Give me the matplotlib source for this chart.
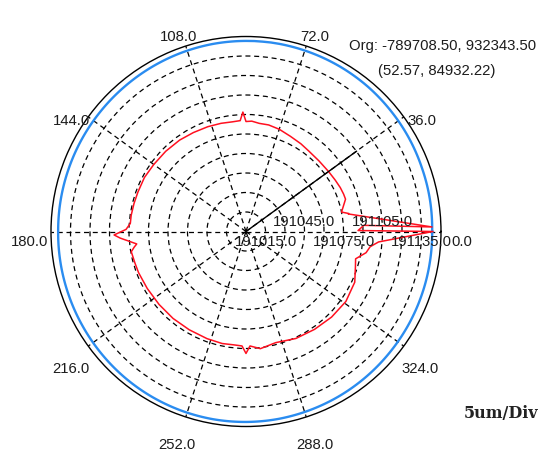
import numpy as np
import matplotlib
matplotlib.use("Agg")
import matplotlib.pyplot as plt

# ---- data -------------------------------------------------------------
r_min, r_max, r_step = 191000.0, 191150.0, 15.0
angle_ticks = [0, 36, 72, 108, 144, 180, 216, 252, 288, 324]
angle_labels = ["0.0", "36.0", "72.0", "108.0", "144.0",
                "180.0", "216.0", "252.0", "288.0", "324.0"]
ring_values = [191015, 191045, 191075, 191105, 191135]
ring_labels = ["191015.0", "191045.0", "191075.0", "191105.0", "191135.0"]

# reference (blue) trace
blue_theta = [0, 10, 20, 30, 40, 50, 60, 70, 80, 90, 100, 110, 120, 130,
              140, 150, 160, 170, 180, 190, 200, 210, 220, 230, 240, 250,
              260, 270, 280, 290, 300, 310, 320, 330, 340, 350, 360]
blue_r = [191143.2, 191143.6, 191143.9, 191144.5, 191145.0, 191145.6,
          191146.0, 191146.3, 191146.6, 191146.6, 191146.5, 191146.2,
          191145.8, 191145.4, 191145.1, 191144.9, 191144.7, 191144.6,
          191144.5, 191144.7, 191144.9, 191145.2, 191145.6, 191146.0,
          191146.3, 191146.5, 191146.6, 191146.5, 191146.3, 191145.9,
          191145.5, 191145.0, 191144.5, 191144.1, 191143.7, 191143.4,
          191143.2]

# measured (red) profile
red_theta = [10, 11.5, 18, 21, 25, 30, 36, 44, 52, 58, 65, 72, 78, 83, 87,
             90, 91.5, 93, 97, 103, 110, 118, 126, 135, 144, 152, 160, 166,
             172, 176, 179, 181.5, 183, 184.6, 186.5, 188, 190, 196, 201,
             210, 220, 230, 240, 250, 258, 264, 268, 270, 272, 277, 285,
             295, 305, 315, 325, 335, 342, 346, 350, 353, 355.5, 360, 360.5,
             363, 361.4, 369.7]
red_r = [191080.0, 191075.0, 191080.5, 191080.4, 191080.0, 191079.2,
         191078.5, 191078.1, 191078.5, 191079.6, 191080.8, 191082.7,
         191083.8, 191083.8, 191085.0, 191084.6, 191091.9, 191085.4,
         191085.0, 191085.4, 191085.8, 191086.2, 191086.9, 191087.3,
         191087.7, 191088.5, 191088.5, 191088.8, 191089.2, 191089.2,
         191092.3, 191101.5, 191096.9, 191090.8, 191084.6, 191086.9,
         191089.6, 191088.8, 191088.5, 191087.7, 191087.3, 191087.3,
         191087.3, 191087.7, 191088.1, 191087.7, 191088.1, 191093.8,
         191088.1, 191090.8, 191088.5, 191090.8, 191091.9, 191093.1,
         191093.8, 191092.3, 191088.5, 191086.9, 191093.8, 191096.2,
         191102.3, 191143.8, 191086.2, 191090.8, 191143.1, 191080.0]

# marker line from the origin
marker_theta = [36, 36]
marker_r = [191000, 191105]

# label offsets (pixels) from the centre
angle_label_offsets = [(216, -9.5), (176, 111.5), (69, 195.5), (-67, 195.5),
                       (-175, 111.5), (-216, -9.5), (-175, -136.5),
                       (-69, -212.5), (69, -212.5), (174, -136.5)]

# ---- figure -----------------------------------------------------------
W, H = 548, 456
fig = plt.figure(figsize=(W / 100, H / 100), dpi=100)
cx, cy, rad = 246.0, 232.5, 195.0
ax = fig.add_axes([(cx - rad) / W, (H - cy - rad) / H, 2 * rad / W, 2 * rad / H],
                  projection="polar")
ax.set_theta_zero_location("E")
ax.set_theta_direction(1)
ax.set_rlim(r_min, r_max)
ax.set_rorigin(r_min)

txt_font = ["Liberation Sans", "DejaVu Sans"]
txt_col = "#1c1c1c"

ax.set_thetagrids(angle_ticks, [""] * len(angle_ticks))
ax.set_rgrids(np.arange(r_min + r_step, r_max, r_step), [""] * 9)
ax.grid(True, color="black", linestyle=(0, (4, 3)), linewidth=0.9)
ax.tick_params(length=0)
ax.spines["polar"].set_color("black")
ax.spines["polar"].set_linewidth(1.0)

blue_line, = ax.plot(np.deg2rad(blue_theta), blue_r, color="#2a8cf0",
                     linewidth=1.7, zorder=3)
# draw the blue trace as smooth arcs between its samples
blue_line.get_path()._interpolation_steps = 12

ax.plot(np.deg2rad(red_theta), red_r, color="#ff1020", linewidth=1.1, zorder=4)
ax.plot(np.deg2rad(marker_theta), marker_r, color="black", linewidth=1.0, zorder=4)

for lbl, (dx, dy) in zip(angle_labels, angle_label_offsets):
    ax.annotate(lbl, xy=(0, r_min), xytext=(dx, dy), textcoords="offset pixels",
                ha="center", va="center", fontsize=10.7, family=txt_font,
                color=txt_col, annotation_clip=False)

for i, (v, lbl) in enumerate(zip(ring_values, ring_labels)):
    dy = -10 if i % 2 == 0 else 10
    ax.annotate(lbl, xy=(0, v), xytext=(0, dy), textcoords="offset pixels",
                ha="center", va="center", fontsize=10.7, family=txt_font,
                color=txt_col, annotation_clip=False, zorder=6)

fig.text(443 / W, 1 - 45.7 / H, "Org: -789708.50, 932343.50", ha="center",
         va="center", fontsize=10.7, family=txt_font, color=txt_col)
fig.text(437 / W, 1 - 70.7 / H, "(52.57, 84932.22)", ha="center",
         va="center", fontsize=10.7, family=txt_font, color=txt_col)
fig.text(501 / W, 1 - 414 / H, "5um/Div", ha="center", va="center",
         fontsize=11.5, family=["DejaVu Serif"], fontweight="bold", color="#222222")

fig.savefig("out.png", dpi=100)
